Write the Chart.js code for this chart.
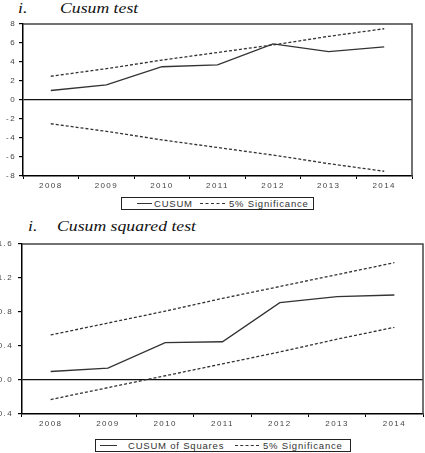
<!DOCTYPE html>
<html>
<head>
<meta charset="utf-8">
<script src="https://cdn.jsdelivr.net/npm/chart.js@4"></script>
<style>
  html, body { margin: 0; padding: 0; background: #fff; }
  body { width: 425px; height: 453px; position: relative; overflow: hidden; }
  .box { position: absolute; }
  .title { position: absolute; font-family: "Liberation Serif", serif; font-style: italic; font-size: 15px; color: #111; white-space: nowrap; transform: scaleX(1.18); transform-origin: left center; }
  .legend { position: absolute; border: 1px solid #222; height: 11px; font-family: "Liberation Sans", Arial, sans-serif; font-size: 9.5px; letter-spacing: 0.8px; color: #333; }
  .legend span { position: absolute; top: 0; line-height: 11px; white-space: nowrap; }
  .legend i { position: absolute; top: 5px; height: 0; border-top: 1px solid #333; }
  .legend i.dash { border-top: 1px dashed #333; }
</style>
</head>
<body>
<div class="title" style="left:18px; top:0px;">i.</div>
<div class="title" style="left:60px; top:0px;">Cusum test</div>
<div class="box" style="left:0; top:0; width:425px; height:195px;"><canvas id="cusumChart"></canvas></div>
<div class="legend" style="left:121px; top:197px; width:191px;">
  <i style="left:15px; width:15px;"></i><span style="left:32px;">CUSUM</span>
  <i class="dash" style="left:78px; width:25px;"></i><span style="left:107px;">5% Significance</span>
</div>

<div class="title" style="left:28px; top:218px;">i.</div>
<div class="title" style="left:57px; top:218px;">Cusum squared test</div>
<div class="box" style="left:-10px; top:220px; width:445px; height:212px;"><canvas id="squaresChart"></canvas></div>
<div class="legend" style="left:95px; top:439px; width:254px;">
  <i style="left:4px; width:17px;"></i><span style="left:32px;">CUSUM of Squares</span>
  <i class="dash" style="left:139px; width:24px;"></i><span style="left:167px;">5% Significance</span>
</div>

<script>
const years = ["2008", "2009", "2010", "2011", "2012", "2013", "2014"];

// Cusum test
const cusum = [1.0, 1.6, 3.5, 3.7, 5.9, 5.1, 5.6];
const cusumUpper = [2.5, 3.3, 4.2, 5.0, 5.8, 6.7, 7.5];
const cusumLower = [-2.5, -3.3, -4.2, -5.0, -5.8, -6.7, -7.5];

// Cusum squared test
const cusumSq = [0.10, 0.14, 0.44, 0.45, 0.91, 0.98, 1.0];
const sqUpper = [0.53, 0.67, 0.81, 0.96, 1.10, 1.24, 1.38];
const sqLower = [-0.23, -0.09, 0.05, 0.19, 0.33, 0.48, 0.62];

// frame on top/right and tick letter spacing
const framePlugin = {
  id: "frame",
  beforeDraw(chart) {
    chart.ctx.letterSpacing = "1.4px";
  },
  afterDraw(chart) {
    const { ctx, chartArea: a } = chart;
    ctx.save();
    ctx.strokeStyle = "#444";
    ctx.lineWidth = 1.5;
    ctx.beginPath();
    ctx.moveTo(a.left, a.top);
    ctx.lineTo(a.right, a.top);
    ctx.lineTo(a.right, a.bottom);
    ctx.stroke();
    ctx.restore();
  },
};

function makeChart(id, main, upper, lower, yMin, yMax, step, fmt, pad, yWidth, xHeight, yPad) {
  const line = (data, dashed) => ({
    data: data,
    borderColor: "#333",
    borderWidth: 1.3,
    borderDash: dashed ? [3, 2] : [],
    pointRadius: 0,
    tension: 0,
    fill: false,
  });
  const tickFont = { family: "Liberation Sans, Arial, sans-serif", size: 8 };
  return new Chart(document.getElementById(id), {
    type: "line",
    data: {
      labels: years,
      datasets: [line(main, false), line(upper, true), line(lower, true)],
    },
    options: {
      responsive: true,
      maintainAspectRatio: false,
      animation: false,
      layout: { padding: pad },
      plugins: { legend: { display: false }, tooltip: { enabled: false } },
      scales: {
        x: {
          offset: true,
          border: { color: "#000", width: 1.5 },
          grid: { drawOnChartArea: false, tickLength: 3, tickColor: "#000", offset: true },
          ticks: { color: "#444", font: tickFont, padding: 2, autoSkip: false, maxRotation: 0 },
          afterFit: (s) => { s.height = xHeight; },
        },
        y: {
          min: yMin,
          max: yMax,
          border: { color: "#000", width: 1.5 },
          grid: {
            color: (c) => (Math.abs(c.tick.value) < 1e-9 ? "#111" : "rgba(0,0,0,0)"),
            lineWidth: 1.2,
            tickColor: "#000",
            tickLength: 4,
          },
          ticks: { stepSize: step, color: "#444", font: tickFont, padding: yPad, callback: fmt },
          afterFit: (s) => { s.width = yWidth; },
        },
      },
    },
    plugins: [framePlugin],
  });
}

makeChart("cusumChart", cusum, cusumUpper, cusumLower, -8, 8, 2,
  (v) => String(v), { top: 24, right: 13, left: 0, bottom: 0 }, 23, 19, 3);

makeChart("squaresChart", cusumSq, sqUpper, sqLower, -0.4, 1.6, 0.4,
  (v) => v.toFixed(1), { top: 24, right: 12, left: 0, bottom: 0 }, 32, 18, 5);
</script>
</body>
</html>
